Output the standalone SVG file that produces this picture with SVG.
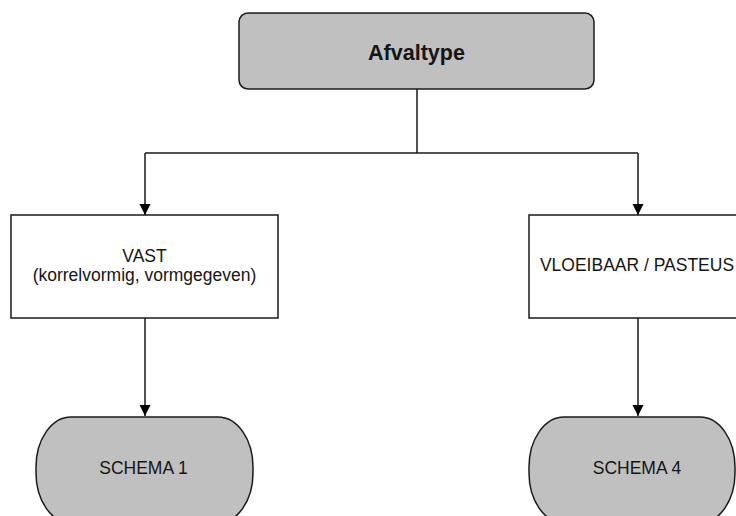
<svg xmlns="http://www.w3.org/2000/svg" width="736" height="516" viewBox="0 0 736 516">
  <defs>
    <style>
      .shade { fill: #c0c0c0; stroke: #1a1a1a; stroke-width: 1.5; }
      .box { fill: #ffffff; stroke: #1a1a1a; stroke-width: 1.5; }
      .lbl { font-family: "Liberation Sans", Arial, sans-serif; font-size: 17.5px; fill: #151515; text-anchor: middle; }
      .title { font-family: "Liberation Sans", Arial, sans-serif; font-size: 21.5px; font-weight: bold; fill: #151515; text-anchor: middle; }
      .conn { fill: none; stroke: #1a1a1a; stroke-width: 1.5; }
    </style>
    <marker id="arrow" markerWidth="12" markerHeight="12" refX="11" refY="6" orient="auto" markerUnits="userSpaceOnUse">
      <path d="M0,0.5 L11,6 L0,11.5 Z" fill="#000"/>
    </marker>
  </defs>
  <rect width="736" height="516" fill="#ffffff"/>

  <g id="connectors">
    <path class="conn" d="M417,89 V153"/>
    <path class="conn" d="M145,153 H638"/>
    <path class="conn" d="M145,153 V215" marker-end="url(#arrow)"/>
    <path class="conn" d="M638,153 V215" marker-end="url(#arrow)"/>
    <path class="conn" d="M145,318 V416" marker-end="url(#arrow)"/>
    <path class="conn" d="M638,318 V416" marker-end="url(#arrow)"/>
  </g>

  <g id="afvaltype">
    <rect class="shade" x="239" y="13" width="355" height="76" rx="9" ry="9"/>
    <text class="title" x="416.5" y="60">Afvaltype</text>
  </g>

  <g id="vast">
    <rect class="box" x="11" y="215" width="267" height="103"/>
    <text class="lbl" x="144.5" y="262">VAST</text>
    <text class="lbl" x="144.5" y="281">(korrelvormig, vormgegeven)</text>
  </g>

  <g id="vloeibaar">
    <rect class="box" x="529" y="215" width="240" height="103"/>
    <text class="lbl" x="637" y="271">VLOEIBAAR / PASTEUS</text>
  </g>

  <g id="schema1">
    <rect class="shade" x="36" y="417" width="217" height="106" rx="35" ry="50"/>
    <text class="lbl" x="143.5" y="474">SCHEMA 1</text>
  </g>

  <g id="schema4">
    <rect class="shade" x="529" y="417" width="206" height="106" rx="35" ry="50"/>
    <text class="lbl" x="637" y="474">SCHEMA 4</text>
  </g>
</svg>
